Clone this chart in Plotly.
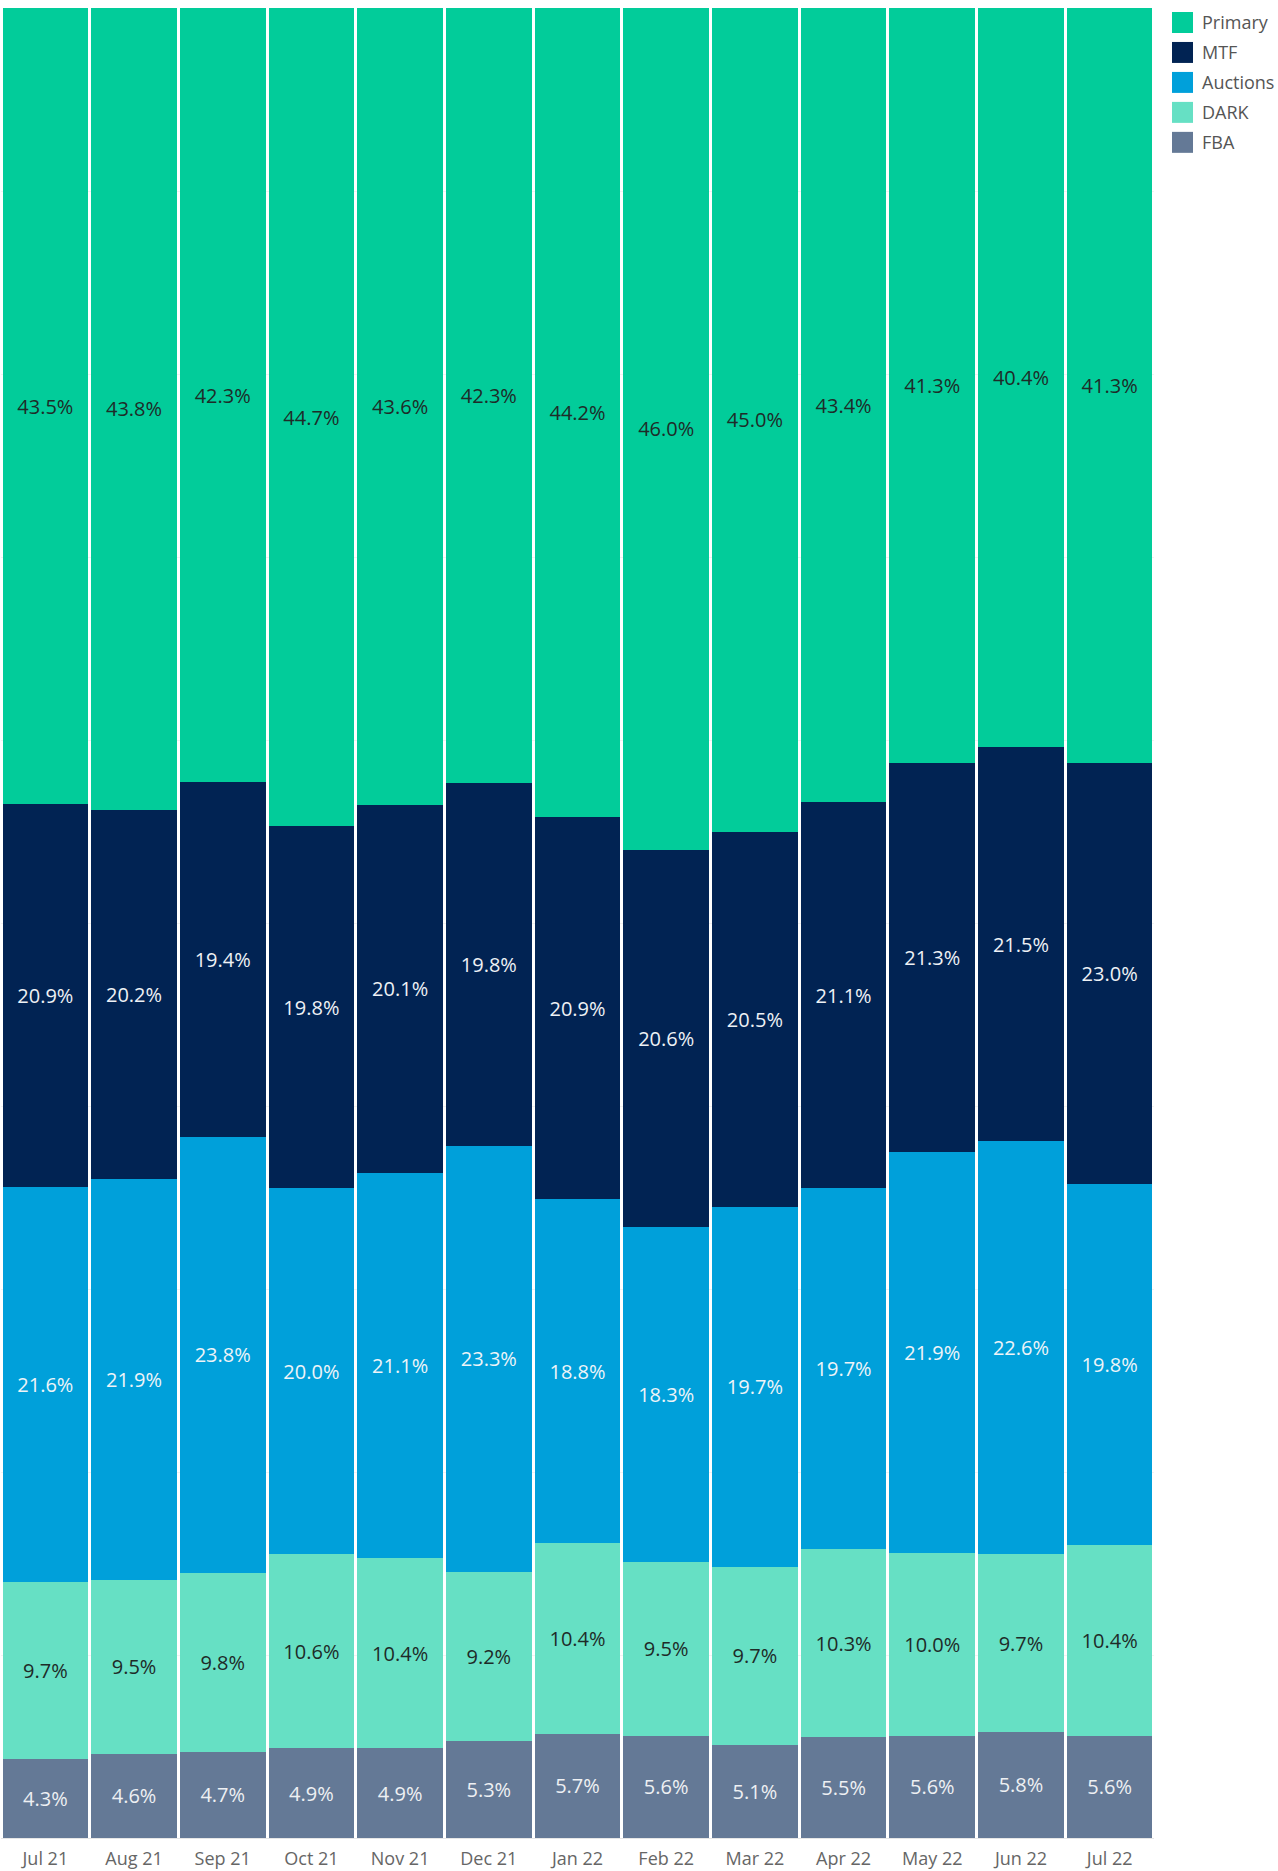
import plotly.graph_objects as go

months = ["Jul 21", "Aug 21", "Sep 21", "Oct 21", "Nov 21", "Dec 21", "Jan 22",
          "Feb 22", "Mar 22", "Apr 22", "May 22", "Jun 22", "Jul 22"]

primary = [43.5, 43.8, 42.3, 44.7, 43.6, 42.3, 44.2, 46.0, 45.0, 43.4, 41.3, 40.4, 41.3]
mtf = [20.9, 20.2, 19.4, 19.8, 20.1, 19.8, 20.9, 20.6, 20.5, 21.1, 21.3, 21.5, 23.0]
auctions = [21.6, 21.9, 23.8, 20.0, 21.1, 23.3, 18.8, 18.3, 19.7, 19.7, 21.9, 22.6, 19.8]
dark = [9.7, 9.5, 9.8, 10.6, 10.4, 9.2, 10.4, 9.5, 9.7, 10.3, 10.0, 9.7, 10.4]
fba = [4.3, 4.6, 4.7, 4.9, 4.9, 5.3, 5.7, 5.6, 5.1, 5.5, 5.6, 5.8, 5.6]

series_names = ["Primary", "MTF", "Auctions", "DARK", "FBA"]
series_values = [primary, mtf, auctions, dark, fba]
series_colors = ["#02CC9A", "#012353", "#00A0DA", "#66E0C4", "#647996"]
text_colors = ["#1e2b28", "#eef1f5", "#eef4f8", "#1e2b28", "#eef0f3"]

FONT = "Open Sans"
W, H = 1278, 1871
ML, MR, MT, MB = 1, 124, 8, 31
PW = W - ML - MR
PH = H - MT - MB

fig = go.Figure()
# add bottom-to-top so the stack matches: FBA at the bottom, Primary on top
for name, vals, col, tcol in reversed(list(zip(series_names, series_values, series_colors, text_colors))):
    fig.add_trace(go.Bar(
        x=months, y=vals, name=name,
        marker=dict(color=col, line=dict(width=0)),
        text=[f"{v:.1f}%" for v in vals],
        textposition="inside", insidetextanchor="middle", textangle=0,
        textfont=dict(family=FONT, size=20, color=tcol),
        constraintext="none",
        showlegend=False,
        hoverinfo="x+y+name",
    ))

# legend (drawn as layout items to get Tableau-sized swatches)
shapes = []
annotations = []
for i, (name, col) in enumerate(zip(series_names, series_colors)):
    y0 = 12 + 30 * i
    y1 = y0 + 21
    shapes.append(dict(type="rect", xref="paper", yref="paper",
                       x0=(1172 - ML) / PW, x1=(1193 - ML) / PW,
                       y0=(H - MB - y1) / PH, y1=(H - MB - y0) / PH,
                       fillcolor=col, line=dict(width=0)))
    annotations.append(dict(xref="paper", yref="paper",
                            x=(1200 - ML) / PW, y=(H - MB - (y0 + 10.5)) / PH,
                            xanchor="left", yanchor="middle", text=name,
                            showarrow=False,
                            font=dict(family=FONT, size=18, color="#555555")))

fig.update_layout(
    width=W, height=H,
    margin=dict(l=ML, r=MR, t=MT, b=MB),
    barmode="stack", barnorm="percent", bargap=0.034,
    plot_bgcolor="white", paper_bgcolor="white",
    showlegend=False,
    shapes=shapes, annotations=annotations,
    font=dict(family=FONT),
    xaxis=dict(showgrid=False, showline=True, linecolor="#e6e6e6", linewidth=1,
               ticks="", tickfont=dict(family=FONT, size=18, color="#666666"),
               ticklabelstandoff=4, fixedrange=True),
    yaxis=dict(range=[0, 100], showticklabels=False, showgrid=True,
               gridcolor="#f2f2f2", gridwidth=1, dtick=10, zeroline=False,
               showline=False, ticks="", fixedrange=True),
)

fig.write_html("out.html",
               config={"displayModeBar": False},
               post_script="document.body.style.margin='0';document.body.style.overflow='hidden';")
